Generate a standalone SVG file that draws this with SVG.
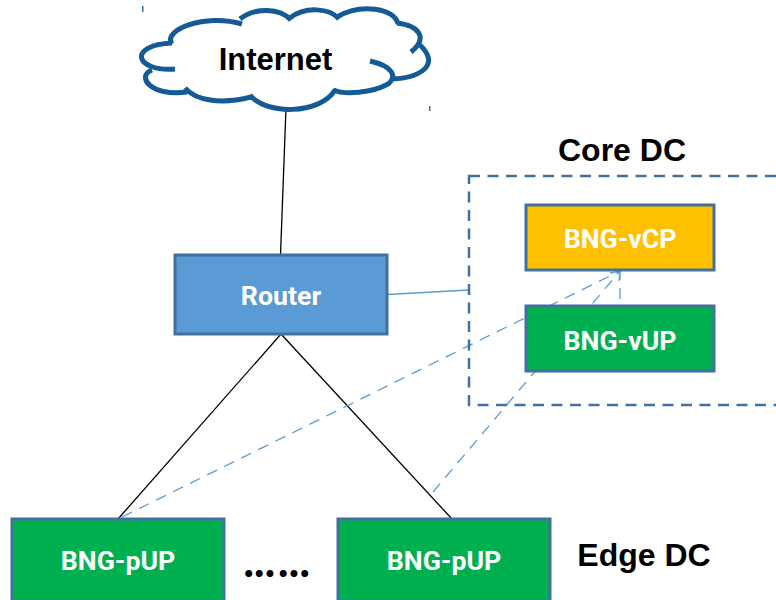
<svg xmlns="http://www.w3.org/2000/svg" width="776" height="600" viewBox="0 0 776 600">
<style>
.box{stroke:#41719c;stroke-width:3}
.t{font-family:Roboto,"Liberation Sans",sans-serif;font-weight:700;font-size:26.700px;fill:#fff;text-anchor:middle}
.h{font-family:"Liberation Sans",Arial,sans-serif;font-weight:700;font-size:32px;fill:#000;text-anchor:middle}
.solid{fill:none;stroke:#000;stroke-width:1.3}
.dash{fill:none;stroke:#5b9bd5;stroke-width:1.300;stroke-dasharray:11 8}
.cloud{fill:none;stroke:#155a96;stroke-width:5;stroke-linecap:butt}
</style>
<rect width="776" height="600" fill="#fff"/>
<g id="crop-marks" fill="#41719c"><rect x="142" y="6" width="1.500" height="6"/><rect x="429" y="106" width="1.500" height="5"/></g>
<g id="connectors">
<path class="solid" d="M286 108L280.500 255"/>
<path class="solid" d="M281 334L118 519"/>
<path class="solid" d="M281 334L452 519"/>
<path d="M387 294.500L469 290" fill="none" stroke="#5b9bd5" stroke-width="1.300"/>
<path class="dash" d="M122 517L620 271"/>
<path class="dash" d="M433 492L620 271"/>
<path class="dash" d="M620 299L620 271"/>
<path d="M610 273L620 271L619 281" fill="none" stroke="#5b9bd5" stroke-width="1.300"/>
</g>
<g id="internet">
<path d="M172 43C160 30 205 12 241 22C255 8 280 8 290 18C305 6 330 8 338 17C360 3 395 8 398 24C420 25 428 40 412 52C440 68 415 78 392 78C375 92 345 95 333 90C320 115 265 115 250 97C220 105 195 100 186 90C150 95 138 75 152 70C135 65 135 45 172 43Z" fill="#fff"/>
<path class="cloud" d="M172 44C162 30 205 13 242 24M240 19C255 7 280 8 291 20M290 18C305 6 330 8 339 19M337 17C360 3 395 8 398 24M397 23C420 26 428 38 411 52M420 45C442 66 418 78 392 79M370 61C392 66 398 76 388 84C372 93 345 95 333 90M335 90C320 115 265 115 250 95M251 97C220 105 195 100 185 88M187 92C150 97 136 76 152 70M175 69C135 72 127 45 172 43"/>
<text class="h" x="275.500" y="70" style="font-size:31px">Internet</text>
</g>
<g id="router"><rect class="box" x="175" y="255" width="212" height="79" fill="#5b9bd5"/><text class="t" x="281" y="305">Router</text></g>
<g id="core-dc"><rect x="469" y="176" width="330" height="229" fill="none" stroke="#41719c" stroke-width="2.500" stroke-dasharray="11 7.500"/><text class="h" x="622" y="161">Core DC</text></g>
<g id="bng-vcp"><rect class="box" x="526" y="205" width="188" height="65" fill="#ffc000"/><text class="t" x="620" y="248">BNG-vCP</text></g>
<g id="bng-vup"><rect class="box" x="526" y="306" width="188" height="65" fill="#00b050"/><text class="t" x="620" y="350">BNG-vUP</text></g>
<g id="bng-pup-1"><rect class="box" x="12" y="519" width="212" height="82" fill="#00b050"/><text class="t" x="118" y="570">BNG-pUP</text></g>
<g id="bng-pup-2"><rect class="box" x="338" y="519" width="212" height="82" fill="#00b050"/><text class="t" x="444" y="570">BNG-pUP</text></g>
<g id="labels"><text x="243.200 253.800 264.500 277.800 288.500 299.200" y="577" style="font-family:Lato,sans-serif;font-weight:700;font-size:46px;fill:#000">......</text><text class="h" x="644" y="566">Edge DC</text></g>
</svg>
